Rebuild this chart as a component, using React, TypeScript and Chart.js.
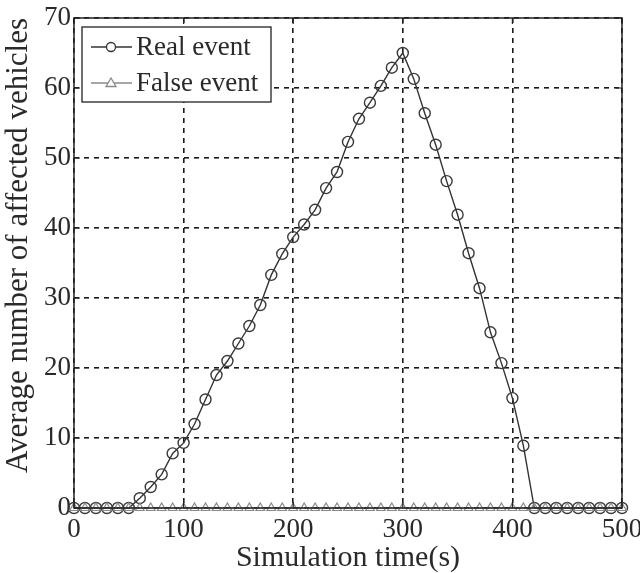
import React, { useEffect, useRef } from "react";
import { Chart, registerables } from "chart.js";

Chart.register(...registerables);

const times: number[] = [
  0, 10, 20, 30, 40, 50, 60, 70, 80, 90, 100, 110, 120, 130, 140, 150, 160, 170, 180, 190, 200,
  210, 220, 230, 240, 250, 260, 270, 280, 290, 300, 310, 320, 330, 340, 350, 360, 370, 380, 390, 400,
  410, 420, 430, 440, 450, 460, 470, 480, 490, 500,
];
const realEvent: number[] = [
  0, 0, 0, 0, 0, 0, 1.4, 3, 4.8, 7.8, 9.3, 12, 15.5, 19, 21, 23.5, 26, 29, 33.3, 36.3, 38.7,
  40.5, 42.6, 45.7, 48, 52.3, 55.6, 57.9, 60.3, 62.9, 65, 61.3, 56.4, 51.9, 46.7, 41.9, 36.4, 31.4, 25.1, 20.7, 15.7,
  8.9, 0, 0, 0, 0, 0, 0, 0, 0, 0,
];
const falseEvent: number[] = [
  0, 0, 0, 0, 0, 0, 0, 0, 0, 0, 0, 0, 0, 0, 0, 0, 0, 0, 0, 0, 0,
  0, 0, 0, 0, 0, 0, 0, 0, 0, 0, 0, 0, 0, 0, 0, 0, 0, 0, 0, 0,
  0, 0, 0, 0, 0, 0, 0, 0, 0, 0,
];
const seriesNames: string[] = ["Real event", "False event"];
const xTitle = "Simulation time(s)";
const yTitle = "Average number of affected vehicles";

const FONT = "'Liberation Serif', 'Times New Roman', serif";
const TEXT_COLOR = "#2a2a2a";
const REAL_COLOR = "#333333";
const FALSE_COLOR = "#8a8a8a";

const framePlugin = {
  id: "frame",
  afterDraw(chart: any) {
    const { ctx, chartArea } = chart;
    const { left, right, top, bottom } = chartArea;
    const xs = chart.scales.x;
    const ys = chart.scales.y;
    ctx.save();
    ctx.strokeStyle = "#222";
    ctx.lineWidth = 1.5;
    ctx.setLineDash([]);
    ctx.strokeRect(left, top, right - left, bottom - top);
    // inward ticks
    ctx.lineWidth = 1.2;
    const tl = 6;
    xs.ticks.forEach((t: any) => {
      const px = xs.getPixelForValue(t.value);
      ctx.beginPath();
      ctx.moveTo(px, bottom);
      ctx.lineTo(px, bottom - tl);
      ctx.moveTo(px, top);
      ctx.lineTo(px, top + tl);
      ctx.stroke();
    });
    ys.ticks.forEach((t: any) => {
      const py = ys.getPixelForValue(t.value);
      ctx.beginPath();
      ctx.moveTo(left, py);
      ctx.lineTo(left + tl, py);
      ctx.moveTo(right, py);
      ctx.lineTo(right - tl, py);
      ctx.stroke();
    });

    // legend box
    const bx = left + 8;
    const by = top + 9;
    const bw = 189;
    const bh = 75;
    ctx.fillStyle = "#fff";
    ctx.fillRect(bx, by, bw, bh);
    ctx.strokeStyle = "#222";
    ctx.lineWidth = 1.3;
    ctx.strokeRect(bx, by, bw, bh);

    const rows = [
      { y: by + 20, color: REAL_COLOR, marker: "circle", label: seriesNames[0] },
      { y: by + 56, color: FALSE_COLOR, marker: "triangle", label: seriesNames[1] },
    ];
    rows.forEach((r) => {
      ctx.strokeStyle = r.color;
      ctx.lineWidth = 1.3;
      ctx.beginPath();
      ctx.moveTo(bx + 9, r.y);
      ctx.lineTo(bx + 50, r.y);
      ctx.stroke();
      const cx = bx + 29;
      ctx.beginPath();
      if (r.marker === "circle") {
        ctx.arc(cx, r.y, 4.5, 0, Math.PI * 2);
      } else {
        ctx.moveTo(cx, r.y - 5);
        ctx.lineTo(cx + 5, r.y + 3.5);
        ctx.lineTo(cx - 5, r.y + 3.5);
        ctx.closePath();
      }
      ctx.fillStyle = "#fff";
      ctx.fill();
      ctx.stroke();
      ctx.fillStyle = TEXT_COLOR;
      ctx.font = `27px ${FONT}`;
      ctx.textAlign = "left";
      ctx.textBaseline = "middle";
      ctx.fillText(r.label, bx + 54, r.y + 1);
    });
    ctx.restore();
  },
};

export default function App() {
  const canvasRef = useRef<HTMLCanvasElement | null>(null);

  useEffect(() => {
    document.body.style.margin = "0";
    document.body.style.background = "#fff";
    const canvas = canvasRef.current;
    if (!canvas) return;
    const realData = times.map((t, i) => ({ x: t, y: realEvent[i] }));
    const falseData = times.map((t, i) => ({ x: t, y: falseEvent[i] }));
    const chart = new Chart(canvas, {
      type: "line",
      data: {
        datasets: [
          {
            label: seriesNames[1],
            data: falseData,
            borderColor: FALSE_COLOR,
            borderWidth: 1.2,
            pointStyle: "triangle",
            pointRadius: 5,
            pointBorderColor: FALSE_COLOR,
            pointBackgroundColor: "rgba(255,255,255,0)",
            pointBorderWidth: 1.2,
            tension: 0,
            clip: 8,
          },
          {
            label: seriesNames[0],
            data: realData,
            borderColor: REAL_COLOR,
            borderWidth: 1.4,
            pointStyle: "circle",
            pointRadius: 5.5,
            pointBorderColor: "#3a3a3a",
            pointBackgroundColor: "rgba(255,255,255,0)",
            pointBorderWidth: 1.4,
            tension: 0,
            clip: 8,
          },
        ],
      },
      options: {
        responsive: false,
        animation: false,
        layout: { padding: { left: 0, right: 18, top: 18, bottom: 0 } },
        plugins: {
          legend: { display: false },
          tooltip: { enabled: false },
        },
        scales: {
          x: {
            type: "linear",
            min: 0,
            max: 500,
            ticks: {
              stepSize: 100,
              color: TEXT_COLOR,
              font: { family: FONT, size: 27, lineHeight: 1 },
              padding: 8,
              maxRotation: 0,
            },
            grid: {
              color: "#1a1a1a",
              lineWidth: 1.6,
              tickLength: 0,
              drawTicks: false,
            },
            border: { display: false, dash: [5, 5] },
            title: {
              display: true,
              text: xTitle,
              color: TEXT_COLOR,
              font: { family: FONT, size: 30, lineHeight: 1 },
              padding: { top: 0, bottom: 0 },
            },
            afterFit: (s: any) => {
              s.height = 65;
              s.paddingLeft = 0;
              s.paddingRight = 0;
            },
          },
          y: {
            type: "linear",
            min: 0,
            max: 70,
            ticks: {
              stepSize: 10,
              color: TEXT_COLOR,
              font: { family: FONT, size: 27 },
              padding: 3,
            },
            grid: {
              color: "#1a1a1a",
              lineWidth: 1.6,
              tickLength: 0,
              drawTicks: false,
            },
            border: { display: false, dash: [5, 5] },
            title: {
              display: true,
              text: yTitle,
              align: "end",
              color: TEXT_COLOR,
              font: { family: FONT, size: 31, lineHeight: 1 },
              padding: { top: 3, bottom: 0 },
            },
            afterFit: (s: any) => {
              s.width = 74;
              s.paddingTop = 0;
              s.paddingBottom = 0;
            },
          },
        },
      },
      plugins: [framePlugin],
    });
    return () => chart.destroy();
  }, []);

  return (
    <div style={{ position: "absolute", left: 0, top: 0, width: 640, height: 573, background: "#fff" }}>
      <canvas ref={canvasRef} width={640} height={573} />
    </div>
  );
}
